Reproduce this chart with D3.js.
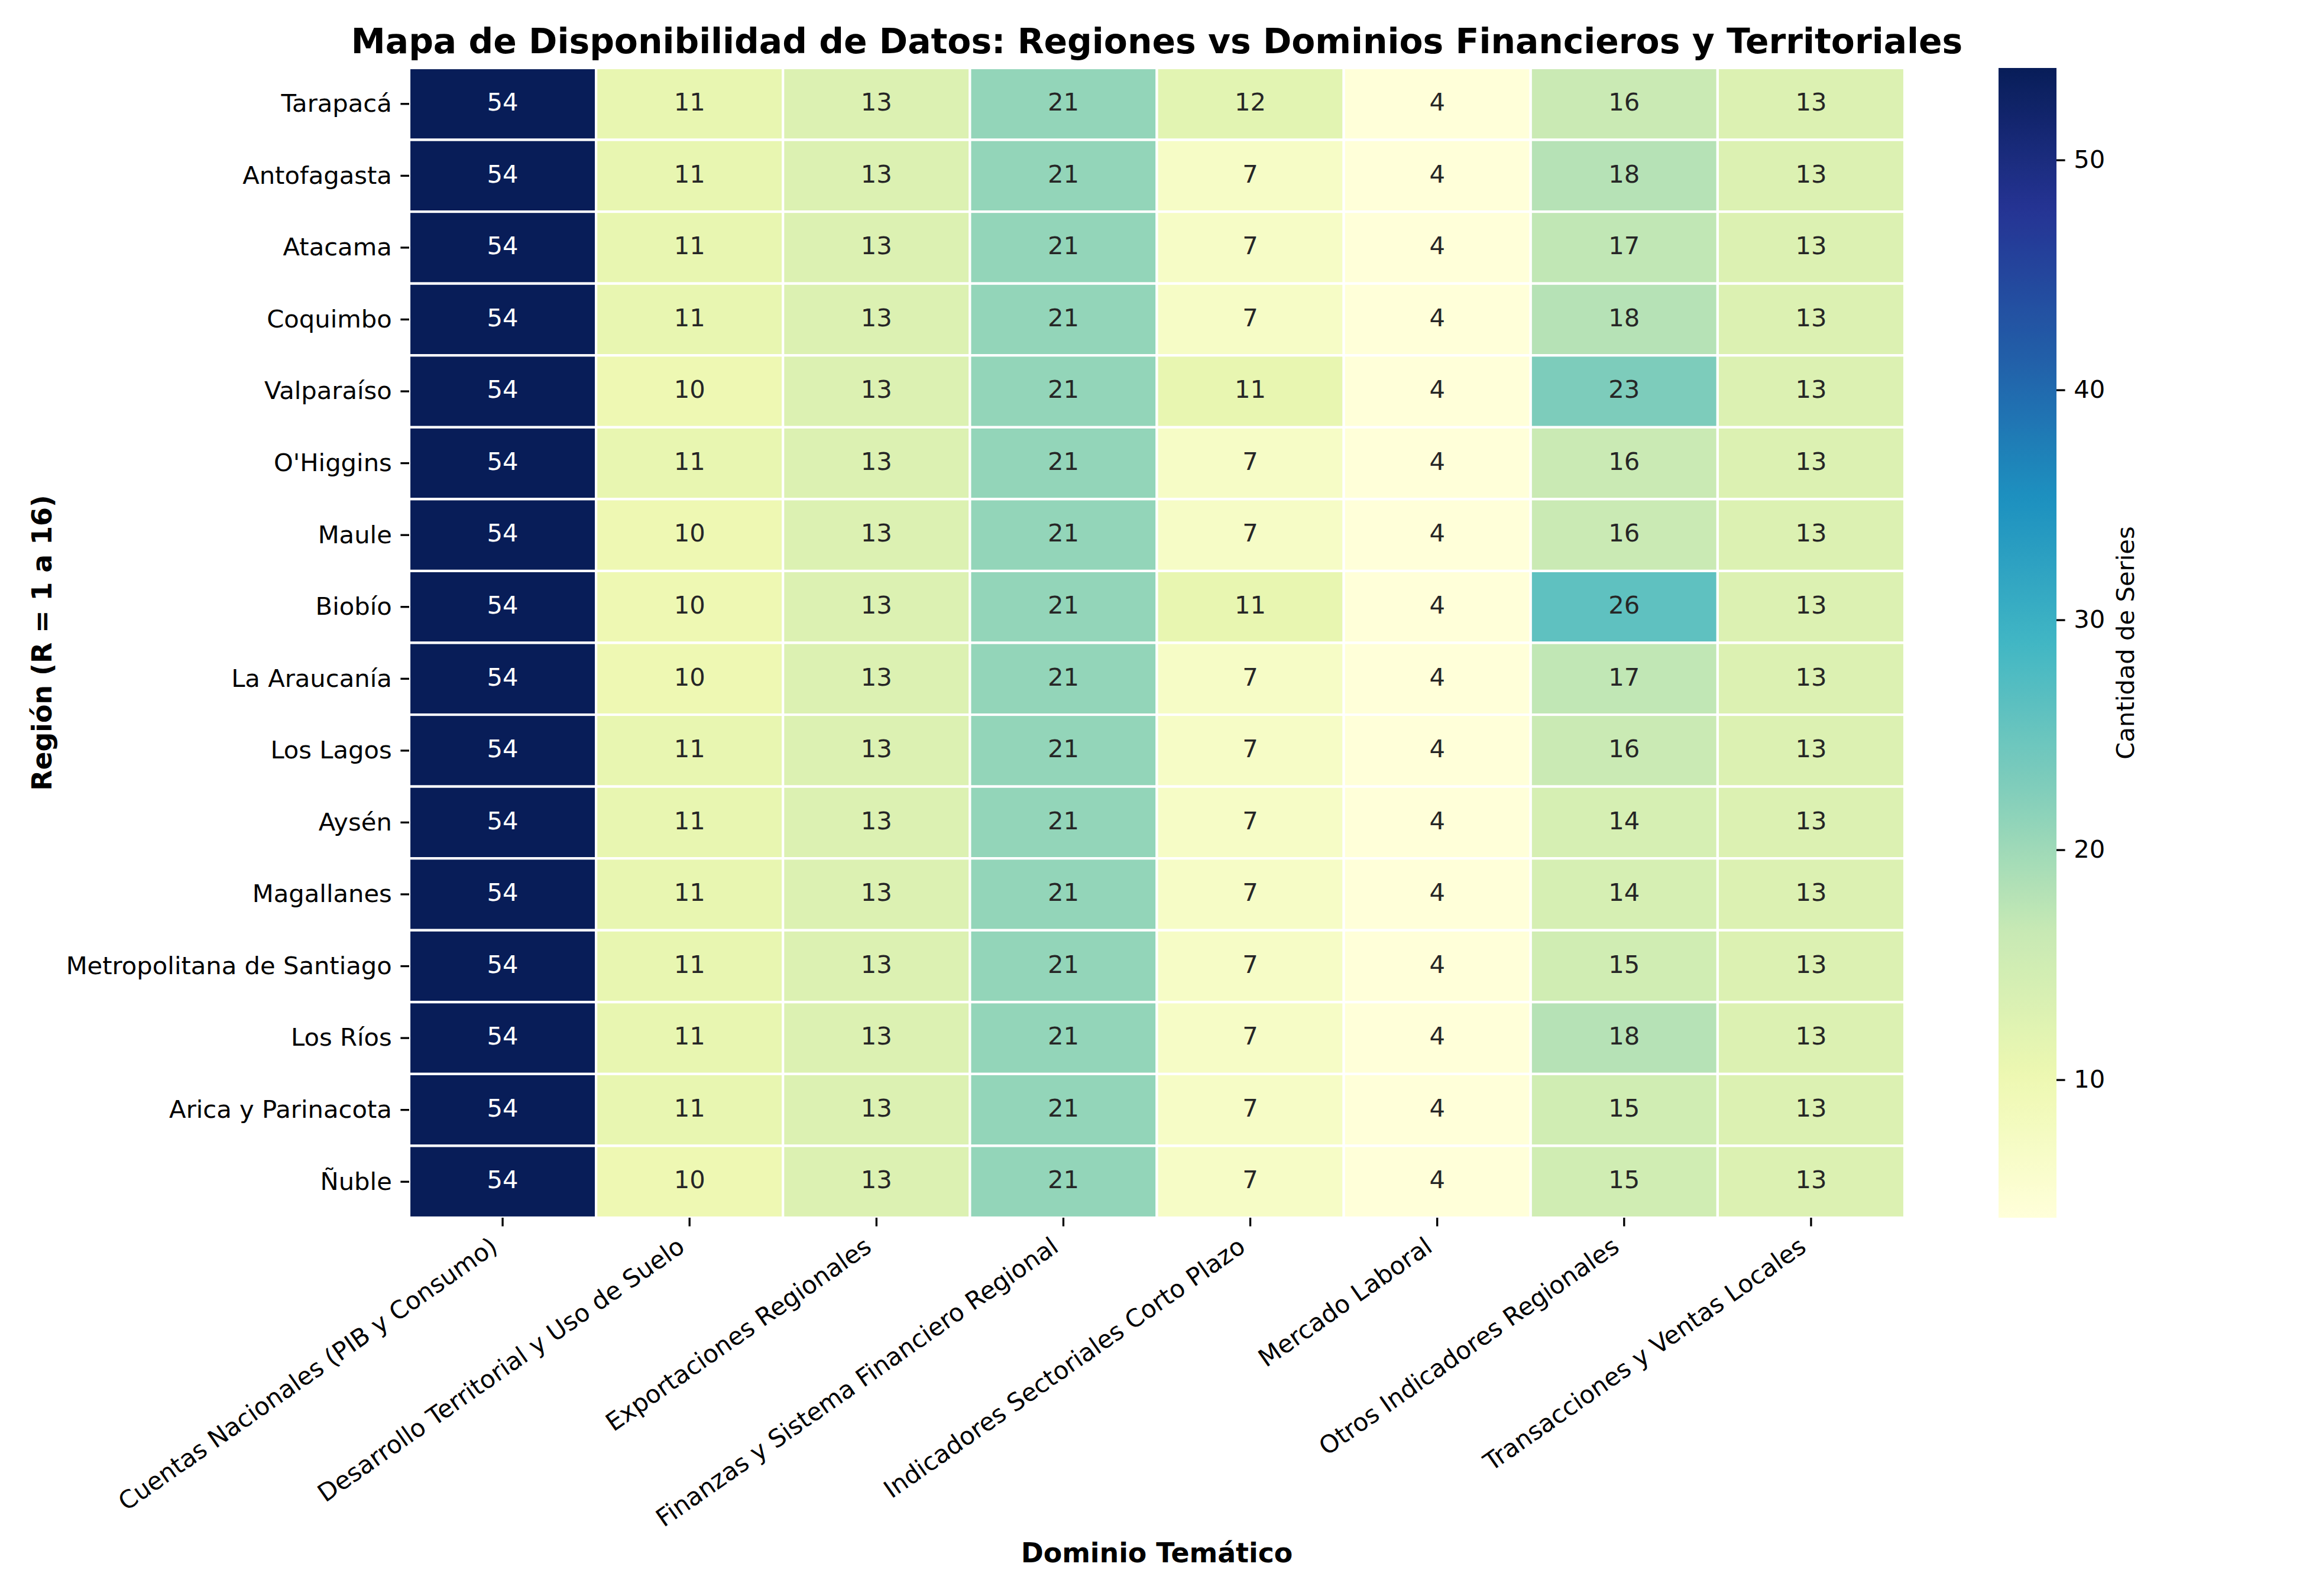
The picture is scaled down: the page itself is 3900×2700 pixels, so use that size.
<!DOCTYPE html>
<html>
<head>
<meta charset="utf-8">
<script src="https://cdn.jsdelivr.net/npm/d3@7"></script>
<style>
  html, body { margin: 0; padding: 0; background: #fff; }
  text { font-family: "DejaVu Sans", sans-serif; }
</style>
</head>
<body>
<svg id="chart" width="3900" height="2700"></svg>
<script>
// ---------------- DATA ----------------
const regions = ["Tarapacá", "Antofagasta", "Atacama", "Coquimbo", "Valparaíso", "O'Higgins", "Maule", "Biobío",
  "La Araucanía", "Los Lagos", "Aysén", "Magallanes", "Metropolitana de Santiago", "Los Ríos", "Arica y Parinacota", "Ñuble"];

const domains = ["Cuentas Nacionales (PIB y Consumo)", "Desarrollo Territorial y Uso de Suelo", "Exportaciones Regionales",
  "Finanzas y Sistema Financiero Regional", "Indicadores Sectoriales Corto Plazo", "Mercado Laboral",
  "Otros Indicadores Regionales", "Transacciones y Ventas Locales"];

// values per domain (column), ordered by region
const cuentasNacionales   = [54, 54, 54, 54, 54, 54, 54, 54, 54, 54, 54, 54, 54, 54, 54, 54];
const desarrolloTerritorial = [11, 11, 11, 11, 10, 11, 10, 10, 10, 11, 11, 11, 11, 11, 11, 10];
const exportaciones       = [13, 13, 13, 13, 13, 13, 13, 13, 13, 13, 13, 13, 13, 13, 13, 13];
const finanzas            = [21, 21, 21, 21, 21, 21, 21, 21, 21, 21, 21, 21, 21, 21, 21, 21];
const indicadoresSect     = [12, 7, 7, 7, 11, 7, 7, 11, 7, 7, 7, 7, 7, 7, 7, 7];
const mercadoLaboral      = [4, 4, 4, 4, 4, 4, 4, 4, 4, 4, 4, 4, 4, 4, 4, 4];
const otrosIndicadores    = [16, 18, 17, 18, 23, 16, 16, 26, 17, 16, 14, 14, 15, 18, 15, 15];
const transacciones       = [13, 13, 13, 13, 13, 13, 13, 13, 13, 13, 13, 13, 13, 13, 13, 13];

const columns = [cuentasNacionales, desarrolloTerritorial, exportaciones, finanzas,
  indicadoresSect, mercadoLaboral, otrosIndicadores, transacciones];

const colorbarTicks = [10, 20, 30, 40, 50];

const titleText = "Mapa de Disponibilidad de Datos: Regiones vs Dominios Financieros y Territoriales";
const xLabelText = "Dominio Temático";
const yLabelText = "Región (R = 1 a 16)";
const cbarLabelText = "Cantidad de Series";

// ---------------- LAYOUT ----------------
const svg = d3.select("#chart");
svg.append("rect").attr("width", 3900).attr("height", 2700).attr("fill", "#fff");

const L = 692, R = 3221, T = 115, B = 2060;
const fs = 41.7;          // 10pt @300dpi
const tickLen = 14.6, tickPad = 14.6, tickW = 3.33;

const cells = [];
columns.forEach((col, j) => col.forEach((v, i) => cells.push({ region: regions[i], domain: domains[j], value: v })));

const vmin = d3.min(cells, d => d.value), vmax = d3.max(cells, d => d.value);

// matplotlib YlGnBu (linear segmented over ColorBrewer 9-class)
const ylgnbu = ["#ffffd9", "#edf8b1", "#c7e9b4", "#7fcdbb", "#41b6c4", "#1d91c0", "#225ea8", "#253494", "#081d58"];
const color = d3.scaleLinear()
  .domain(ylgnbu.map((c, i) => vmin + (vmax - vmin) * i / (ylgnbu.length - 1)))
  .range(ylgnbu)
  .interpolate(d3.interpolateRgb)
  .clamp(true);

const x = d3.scaleBand().domain(domains).range([L, R]).padding(0);
const y = d3.scaleBand().domain(regions).range([T, B]).padding(0);

function relLum(c) {
  const rgb = d3.rgb(c);
  const f = v => { v /= 255; return v <= 0.03928 ? v / 12.92 : Math.pow((v + 0.055) / 1.055, 2.4); };
  return 0.2126 * f(rgb.r) + 0.7152 * f(rgb.g) + 0.0722 * f(rgb.b);
}

// cells
svg.append("g").selectAll("rect").data(cells).join("rect")
  .attr("x", d => x(d.domain))
  .attr("y", d => y(d.region))
  .attr("width", x.bandwidth())
  .attr("height", y.bandwidth())
  .attr("fill", d => color(d.value))
  .attr("stroke", "#fff")
  .attr("stroke-width", 4.17);

// annotations
svg.append("g").selectAll("text").data(cells).join("text")
  .attr("x", d => x(d.domain) + x.bandwidth() / 2)
  .attr("y", d => y(d.region) + y.bandwidth() / 2 + 0.27 * fs)
  .attr("text-anchor", "middle")
  .attr("font-size", fs)
  .attr("fill", d => relLum(color(d.value)) > 0.408 ? "#262626" : "#ffffff")
  .text(d => d.value);

// y axis
const yAxis = d3.axisLeft(y).tickSize(tickLen).tickPadding(tickPad);
const gy = svg.append("g").attr("transform", `translate(${L},0)`).call(yAxis);
gy.select(".domain").remove();
gy.selectAll(".tick line").attr("stroke", "#000").attr("stroke-width", tickW);
gy.selectAll(".tick text").attr("font-size", fs).attr("fill", "#000")
  .attr("font-family", "DejaVu Sans").attr("dy", "0.32em");

// x axis
const xAxis = d3.axisBottom(x).tickSize(tickLen).tickPadding(tickPad);
const gx = svg.append("g").attr("transform", `translate(0,${B})`).call(xAxis);
gx.select(".domain").remove();
gx.selectAll(".tick line").attr("stroke", "#000").attr("stroke-width", tickW);
const asc = 0.76 * fs, desc = 0.236 * fs, ang = 35 * Math.PI / 180;
gx.selectAll(".tick text")
  .attr("font-size", fs).attr("fill", "#000").attr("font-family", "DejaVu Sans")
  .attr("text-anchor", "end")
  .attr("dy", null)
  .attr("y", null)
  .attr("transform", `translate(${-Math.sin(ang) * desc},${tickLen + tickPad + Math.cos(ang) * asc}) rotate(-35)`);

// axis labels
svg.append("text")
  .attr("x", (L + R) / 2).attr("y", 2643)
  .attr("text-anchor", "middle").attr("font-size", 45.8).attr("font-weight", "bold")
  .text(xLabelText);

svg.append("text")
  .attr("transform", `translate(87,${(T + B) / 2}) rotate(-90)`)
  .attr("text-anchor", "middle").attr("font-size", 45.8).attr("font-weight", "bold")
  .text(yLabelText);

// title
svg.append("text")
  .attr("x", (L + R) / 2).attr("y", 90)
  .attr("text-anchor", "middle").attr("font-size", 58.3).attr("font-weight", "bold")
  .text(titleText);

// colorbar
const cbL = 3380, cbW = 98;
const cbScale = d3.scaleLinear().domain([vmin, vmax]).range([B, T]);
const defs = svg.append("defs");
const grad = defs.append("linearGradient").attr("id", "cbgrad")
  .attr("x1", 0).attr("y1", 1).attr("x2", 0).attr("y2", 0);
d3.range(0, 101).forEach(k => {
  const v = vmin + (vmax - vmin) * k / 100;
  grad.append("stop").attr("offset", `${k}%`).attr("stop-color", color(v));
});
svg.append("rect").attr("x", cbL).attr("y", T).attr("width", cbW).attr("height", B - T)
  .attr("fill", "url(#cbgrad)");

const cbAxis = d3.axisRight(cbScale).tickValues(colorbarTicks).tickSize(tickLen).tickPadding(tickPad);
const gcb = svg.append("g").attr("transform", `translate(${cbL + cbW},0)`).call(cbAxis);
gcb.select(".domain").remove();
gcb.selectAll(".tick line").attr("stroke", "#000").attr("stroke-width", tickW);
gcb.selectAll(".tick text").attr("font-size", fs).attr("fill", "#000")
  .attr("font-family", "DejaVu Sans").attr("dy", "0.32em");

svg.append("text")
  .attr("transform", `translate(3609,${(T + B) / 2}) rotate(-90)`)
  .attr("text-anchor", "middle").attr("font-size", fs)
  .text(cbarLabelText);
</script>
</body>
</html>
